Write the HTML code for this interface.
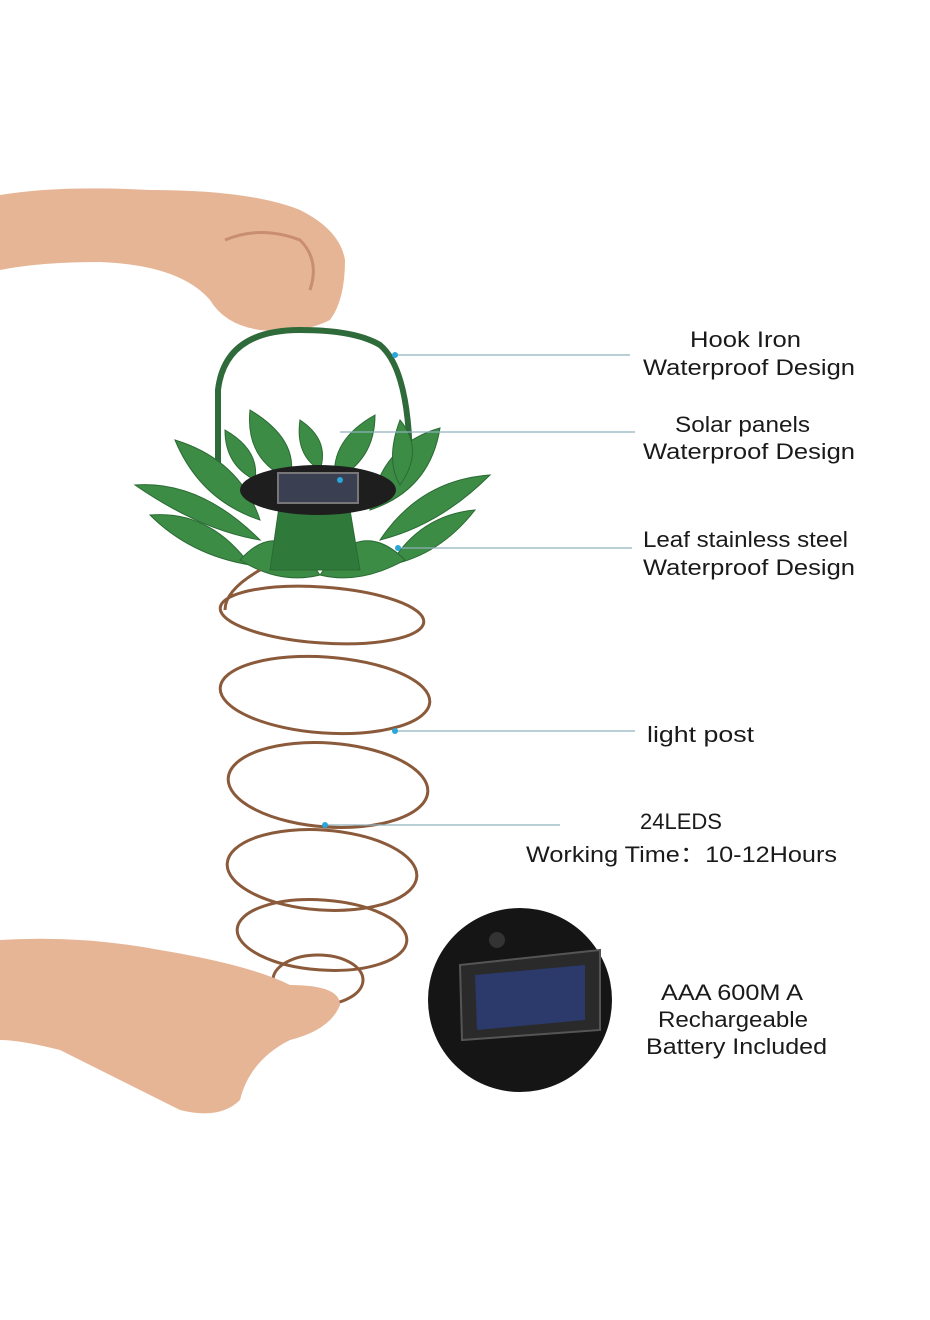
<!DOCTYPE html>
<html><head><meta charset="utf-8"><style>
html,body{margin:0;padding:0;background:#fff;}
svg{display:block;}
text{font-family:"Liberation Sans",sans-serif;font-size:22px;fill:#1a1a1a;}
</style></head><body>
<svg width="930" height="1320" viewBox="0 0 930 1320" xmlns="http://www.w3.org/2000/svg">
<rect width="930" height="1320" fill="#fff"/>
<!-- top hand -->
<path d="M0 195 Q60 185 150 190 Q250 190 300 210 Q340 230 345 260 Q345 300 330 320 Q300 335 260 330 Q225 325 210 300 Q180 265 100 262 Q40 262 0 270 Z" fill="#e6b596"/>
<path d="M225 240 Q260 225 300 240 Q320 260 310 290" fill="none" stroke="#c98d70" stroke-width="3"/>
<!-- handle -->
<path d="M218 470 L218 390 Q225 330 300 330 Q355 330 380 345 Q410 370 410 470" fill="none" stroke="#2f6a3a" stroke-width="6"/>
<!-- leaves -->
<g fill="#3d8c46" stroke="#2a6a33" stroke-width="1">
<path d="M135 485 Q200 480 260 540 Q200 530 135 485Z"/>
<path d="M150 515 Q210 510 250 565 Q190 555 150 515Z"/>
<path d="M490 475 Q420 480 380 540 Q440 525 490 475Z"/>
<path d="M475 510 Q420 515 390 565 Q440 555 475 510Z"/>
<path d="M175 440 Q240 460 260 520 Q200 500 175 440Z"/>
<path d="M440 428 Q380 445 370 510 Q430 490 440 428Z"/>
<path d="M250 410 Q300 440 290 480 Q245 460 250 410Z"/>
<path d="M375 415 Q330 440 335 480 Q375 460 375 415Z"/>
<path d="M300 420 Q330 440 320 470 Q295 455 300 420Z"/>
<path d="M225 430 Q260 450 255 480 Q225 465 225 430Z"/>
<path d="M400 420 Q425 450 400 485 Q385 460 400 420Z"/>
<path d="M240 560 Q280 515 320 575 Q280 585 240 560Z"/>
<path d="M320 575 Q360 515 405 560 Q360 585 320 575Z"/>
<path d="M280 500 Q320 490 350 510 L360 570 L270 570Z" fill="#2f7a3a"/>
</g>
<!-- solar disc -->
<ellipse cx="318" cy="490" rx="78" ry="25" fill="#1e1e1e"/>
<rect x="278" y="473" width="80" height="30" fill="#3a3f52" stroke="#777" stroke-width="2"/>
<!-- spiral -->
<g fill="none" stroke="#8a5a3a" stroke-width="3">
<ellipse cx="322" cy="615" rx="102" ry="28" transform="rotate(4 322 615)"/>
<ellipse cx="325" cy="695" rx="105" ry="38" transform="rotate(4 325 695)"/>
<ellipse cx="328" cy="785" rx="100" ry="42" transform="rotate(4 328 785)"/>
<ellipse cx="322" cy="870" rx="95" ry="40" transform="rotate(4 322 870)"/>
<ellipse cx="322" cy="935" rx="85" ry="35" transform="rotate(4 322 935)"/>
<ellipse cx="318" cy="980" rx="45" ry="25"/>
<path d="M260 570 Q225 590 225 610"/>
</g>
<!-- bottom hand -->
<path d="M0 940 Q80 935 160 950 Q250 965 290 985 Q340 985 340 1005 Q330 1030 290 1040 Q250 1060 240 1100 Q220 1120 180 1110 Q120 1080 60 1050 Q20 1040 0 1040 Z" fill="#e6b596"/>
<!-- battery -->
<circle cx="520" cy="1000" r="92" fill="#151515"/>
<circle cx="497" cy="940" r="8" fill="#333"/>
<path d="M460 965 L600 950 L600 1030 L462 1040 Z" fill="#2a2a2a" stroke="#555" stroke-width="2"/>
<path d="M475 975 L585 965 L585 1020 L477 1030 Z" fill="#2b3a6a"/>
<!-- connector lines -->
<g stroke="#8fb0bc" stroke-width="1.3">
<line x1="395" y1="355" x2="630" y2="355"/>
<line x1="340" y1="432" x2="635" y2="432"/>
<line x1="398" y1="548" x2="632" y2="548"/>
<line x1="395" y1="731" x2="635" y2="731"/>
<line x1="325" y1="825" x2="560" y2="825"/>
</g>
<g fill="#2aa6d8">
<circle cx="395" cy="355" r="3"/><circle cx="340" cy="480" r="3"/><circle cx="398" cy="548" r="3"/><circle cx="395" cy="731" r="3"/><circle cx="325" cy="825" r="3"/>
</g>
<!-- labels -->
<text x="690" y="347" textLength="111" lengthAdjust="spacingAndGlyphs">Hook Iron</text>
<text x="643" y="375" textLength="212" lengthAdjust="spacingAndGlyphs">Waterproof Design</text>
<text x="675" y="432" textLength="135" lengthAdjust="spacingAndGlyphs">Solar panels</text>
<text x="643" y="459" textLength="212" lengthAdjust="spacingAndGlyphs">Waterproof Design</text>
<text x="643" y="547" textLength="205" lengthAdjust="spacingAndGlyphs">Leaf stainless steel</text>
<text x="643" y="575" textLength="212" lengthAdjust="spacingAndGlyphs">Waterproof Design</text>
<text x="647" y="742" textLength="107" lengthAdjust="spacingAndGlyphs">light post</text>
<text x="640" y="829" textLength="82" lengthAdjust="spacingAndGlyphs">24LEDS</text>
<text x="526" y="862" textLength="311" lengthAdjust="spacingAndGlyphs">Working Time：10-12Hours</text>
<text x="661" y="1000" textLength="142" lengthAdjust="spacingAndGlyphs">AAA 600M A</text>
<text x="658" y="1027" textLength="150" lengthAdjust="spacingAndGlyphs">Rechargeable</text>
<text x="646" y="1054" textLength="181" lengthAdjust="spacingAndGlyphs">Battery Included</text>
</svg>
</body></html>
